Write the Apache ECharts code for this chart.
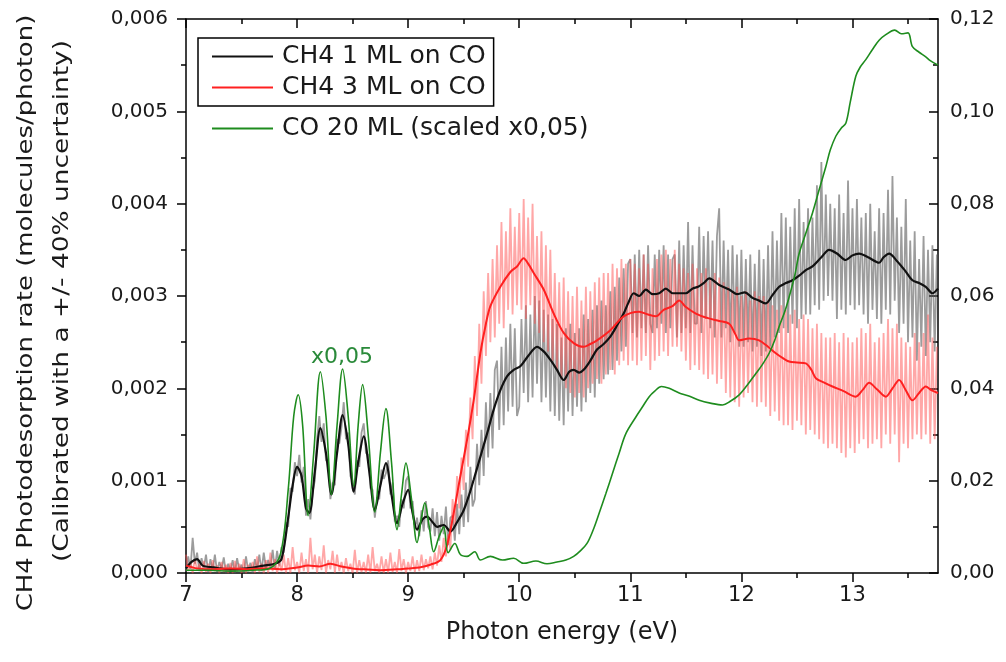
<!DOCTYPE html>
<html>
<head>
<meta charset="utf-8">
<script src="https://cdn.jsdelivr.net/npm/echarts@6/dist/echarts.min.js"></script>
<style>
  html, body { margin: 0; background: #fff; }
  #chart { width: 1006px; height: 662px; }
</style>
</head>
<body>
<div id="chart"></div>
<script>
// photon energy tick labels (eV)
const xTicks = [7, 8, 9, 10, 11, 12, 13];
const xMinorTicks = [7.5, 8.5, 9.5, 10.5, 11.5, 12.5, 13.5];

// raw spectra, sampled every 0.02 eV, values in 1e-3 molecules/photon
const rawEnergy = [
  7, 7.02, 7.04, 7.06, 7.08, 7.1, 7.12, 7.14, 7.16, 7.18,
  7.2, 7.22, 7.24, 7.26, 7.28, 7.3, 7.32, 7.34, 7.36, 7.38,
  7.4, 7.42, 7.44, 7.46, 7.48, 7.5, 7.52, 7.54, 7.56, 7.58,
  7.6, 7.62, 7.64, 7.66, 7.68, 7.7, 7.72, 7.74, 7.76, 7.78,
  7.8, 7.82, 7.84, 7.86, 7.88, 7.9, 7.92, 7.94, 7.96, 7.98,
  8, 8.02, 8.04, 8.06, 8.08, 8.1, 8.12, 8.14, 8.16, 8.18,
  8.2, 8.22, 8.24, 8.26, 8.28, 8.3, 8.32, 8.34, 8.36, 8.38,
  8.4, 8.42, 8.44, 8.46, 8.48, 8.5, 8.52, 8.54, 8.56, 8.58,
  8.6, 8.62, 8.64, 8.66, 8.68, 8.7, 8.72, 8.74, 8.76, 8.78,
  8.8, 8.82, 8.84, 8.86, 8.88, 8.9, 8.92, 8.94, 8.96, 8.98,
  9, 9.02, 9.04, 9.06, 9.08, 9.1, 9.12, 9.14, 9.16, 9.18,
  9.2, 9.22, 9.24, 9.26, 9.28, 9.3, 9.32, 9.34, 9.36, 9.38,
  9.4, 9.42, 9.44, 9.46, 9.48, 9.5, 9.52, 9.54, 9.56, 9.58,
  9.6, 9.62, 9.64, 9.66, 9.68, 9.7, 9.72, 9.74, 9.76, 9.78,
  9.8, 9.82, 9.84, 9.86, 9.88, 9.9, 9.92, 9.94, 9.96, 9.98,
  10, 10.02, 10.04, 10.06, 10.08, 10.1, 10.12, 10.14, 10.16, 10.18,
  10.2, 10.22, 10.24, 10.26, 10.28, 10.3, 10.32, 10.34, 10.36, 10.38,
  10.4, 10.42, 10.44, 10.46, 10.48, 10.5, 10.52, 10.54, 10.56, 10.58,
  10.6, 10.62, 10.64, 10.66, 10.68, 10.7, 10.72, 10.74, 10.76, 10.78,
  10.8, 10.82, 10.84, 10.86, 10.88, 10.9, 10.92, 10.94, 10.96, 10.98,
  11, 11.02, 11.04, 11.06, 11.08, 11.1, 11.12, 11.14, 11.16, 11.18,
  11.2, 11.22, 11.24, 11.26, 11.28, 11.3, 11.32, 11.34, 11.36, 11.38,
  11.4, 11.42, 11.44, 11.46, 11.48, 11.5, 11.52, 11.54, 11.56, 11.58,
  11.6, 11.62, 11.64, 11.66, 11.68, 11.7, 11.72, 11.74, 11.76, 11.78,
  11.8, 11.82, 11.84, 11.86, 11.88, 11.9, 11.92, 11.94, 11.96, 11.98,
  12, 12.02, 12.04, 12.06, 12.08, 12.1, 12.12, 12.14, 12.16, 12.18,
  12.2, 12.22, 12.24, 12.26, 12.28, 12.3, 12.32, 12.34, 12.36, 12.38,
  12.4, 12.42, 12.44, 12.46, 12.48, 12.5, 12.52, 12.54, 12.56, 12.58,
  12.6, 12.62, 12.64, 12.66, 12.68, 12.7, 12.72, 12.74, 12.76, 12.78,
  12.8, 12.82, 12.84, 12.86, 12.88, 12.9, 12.92, 12.94, 12.96, 12.98,
  13, 13.02, 13.04, 13.06, 13.08, 13.1, 13.12, 13.14, 13.16, 13.18,
  13.2, 13.22, 13.24, 13.26, 13.28, 13.3, 13.32, 13.34, 13.36, 13.38,
  13.4, 13.42, 13.44, 13.46, 13.48, 13.5, 13.52, 13.54, 13.56, 13.58,
  13.6, 13.62, 13.64, 13.66, 13.68, 13.7, 13.72, 13.74, 13.76
];
const ch4OneRaw = [
  0.02, 0.18, 0.04, 0.38, 0.10, 0.22, 0.02, 0.16, 0.05, 0.20,
  0.00, 0.15, 0.03, 0.20, 0.01, 0.12, 0.04, 0.17, 0.00, 0.10,
  0.02, 0.14, 0.00, 0.16, 0.03, 0.09, 0.00, 0.18, 0.02, 0.11,
  0.00, 0.15, 0.04, 0.20, 0.02, 0.22, 0.05, 0.14, 0.06, 0.25,
  0.04, 0.24, 0.08, 0.28, 0.22, 0.55, 0.50, 0.92, 0.88, 1.20,
  1.05, 1.28, 0.98, 1.15, 0.62, 0.80, 0.58, 0.88, 1.00, 1.45,
  1.70, 1.42, 1.62, 1.22, 1.20, 0.80, 0.98, 0.95, 1.45, 1.40,
  1.58, 1.85, 1.45, 1.52, 1.05, 1.00, 0.85, 1.22, 1.15, 1.52,
  1.62, 1.30, 1.28, 0.92, 0.90, 0.60, 0.82, 0.80, 1.12, 1.02,
  1.08, 1.22, 0.85, 0.98, 0.55, 0.62, 0.50, 0.80, 0.70, 1.00,
  1.05, 0.70, 0.78, 0.48, 0.60, 0.40, 0.68, 0.45, 0.78, 0.50,
  0.45, 0.70, 0.40, 0.66, 0.35, 0.62, 0.42, 0.72, 0.30, 0.60,
  0.62, 0.35, 0.75, 0.42, 0.85, 0.50, 0.98, 0.55, 1.15, 0.72,
  0.80, 1.40, 0.95, 1.55, 1.05, 1.85, 1.25, 1.95, 1.35, 2.20,
  2.30, 1.55, 2.45, 1.60, 2.55, 1.75, 2.70, 1.80, 2.65, 1.70,
  1.80, 2.75, 1.95, 2.90, 1.85, 2.80, 1.90, 3.00, 2.05, 2.95,
  1.85, 2.85, 1.90, 2.80, 1.75, 2.75, 1.70, 2.70, 1.65, 2.55,
  1.60, 2.65, 1.75, 2.70, 1.70, 2.60, 1.80, 2.65, 1.75, 2.80,
  1.85, 2.75, 1.95, 2.85, 1.90, 2.90, 2.05, 2.95, 2.10, 2.90,
  2.15, 3.05, 2.20, 3.10, 2.30, 3.20, 2.40, 3.30, 2.45, 3.35,
  3.40, 2.60, 3.45, 2.55, 3.50, 2.65, 3.45, 2.60, 3.55, 2.70,
  2.60, 3.45, 2.65, 3.50, 2.70, 3.55, 2.60, 3.45, 2.65, 3.40,
  3.45, 2.55, 3.60, 2.60, 3.55, 2.65, 3.80, 2.60, 3.55, 2.70,
  2.70, 3.75, 2.60, 3.65, 2.75, 3.70, 2.65, 3.60, 2.55, 3.65,
  3.95, 2.55, 3.60, 2.65, 3.50, 2.50, 3.55, 2.60, 3.45, 2.45,
  3.50, 2.45, 3.40, 2.50, 3.45, 2.40, 3.35, 2.45, 3.50, 2.35,
  3.40, 2.40, 3.55, 2.45, 3.70, 2.55, 3.60, 2.60, 3.90, 2.65,
  3.85, 2.60, 3.75, 2.70, 3.95, 2.65, 4.05, 2.75, 3.80, 2.80,
  3.95, 2.80, 3.85, 2.90, 4.20, 2.85, 4.45, 2.95, 4.10, 3.00,
  4.00, 2.95, 3.95, 2.75, 4.10, 2.85, 3.90, 2.80, 4.25, 2.90,
  3.95, 2.85, 4.05, 2.90, 3.85, 2.80, 3.90, 2.70, 4.00, 2.85,
  3.70, 2.75, 3.95, 2.70, 3.90, 2.85, 4.15, 2.80, 4.30, 2.95,
  3.85, 2.60, 3.75, 2.70, 4.05, 2.50, 3.60, 2.55, 3.70, 2.30,
  3.40, 2.45, 3.65, 2.35, 3.50, 2.50, 3.55, 2.40, 3.45
];
const ch4ThreeRaw = [
  0.20, 0.02, 0.12, 0.00, 0.15, 0.03, 0.10, 0.00, 0.13, 0.01,
  0.10, 0.00, 0.14, 0.02, 0.08, 0.00, 0.12, 0.01, 0.09, 0.00,
  0.11, 0.00, 0.13, 0.02, 0.10, 0.00, 0.15, 0.00, 0.09, 0.02,
  0.12, 0.00, 0.18, 0.01, 0.10, 0.00, 0.14, 0.00, 0.22, 0.02,
  0.15, 0.00, 0.12, 0.02, 0.20, 0.00, 0.16, 0.00, 0.28, 0.03,
  0.12, 0.00, 0.22, 0.02, 0.15, 0.00, 0.38, 0.04, 0.20, 0.00,
  0.18, 0.03, 0.30, 0.00, 0.14, 0.04, 0.24, 0.00, 0.20, 0.02,
  0.12, 0.00, 0.16, 0.02, 0.10, 0.00, 0.25, 0.00, 0.14, 0.01,
  0.12, 0.00, 0.20, 0.00, 0.28, 0.02, 0.10, 0.00, 0.18, 0.00,
  0.15, 0.00, 0.22, 0.01, 0.12, 0.00, 0.26, 0.02, 0.15, 0.00,
  0.12, 0.02, 0.18, 0.01, 0.14, 0.02, 0.20, 0.03, 0.15, 0.05,
  0.18, 0.04, 0.22, 0.08, 0.30, 0.12, 0.38, 0.18, 0.42, 0.25,
  0.80, 0.50, 1.05, 0.70, 1.25, 0.90, 1.55, 1.15, 1.90, 1.45,
  2.35, 1.70, 2.70, 2.05, 3.05, 2.35, 3.25, 2.50, 3.40, 2.55,
  3.55, 2.70, 3.80, 2.65, 3.70, 2.85, 3.95, 2.80, 3.75, 2.90,
  3.90, 2.85, 4.05, 2.75, 3.85, 2.90, 4.00, 2.70, 3.65, 2.60,
  3.70, 2.50, 3.55, 2.40, 3.50, 2.30, 3.25, 2.20, 3.15, 2.10,
  3.20, 2.00, 3.05, 1.95, 3.00, 1.90, 3.10, 1.95, 2.95, 1.90,
  3.10, 2.00, 3.05, 2.05, 3.15, 2.10, 3.20, 2.05, 3.25, 2.15,
  3.25, 2.20, 3.35, 2.15, 3.30, 2.25, 3.40, 2.30, 3.35, 2.25,
  3.40, 2.30, 3.35, 2.25, 3.30, 2.30, 3.45, 2.35, 3.35, 2.20,
  3.30, 2.30, 3.40, 2.35, 3.45, 2.40, 3.50, 2.35, 3.40, 2.45,
  3.50, 2.45, 3.35, 2.40, 3.30, 2.30, 3.25, 2.20, 3.35, 2.25,
  3.30, 2.20, 3.25, 2.15, 3.30, 2.10, 3.20, 2.15, 3.25, 2.05,
  3.20, 2.10, 3.15, 1.95, 3.10, 1.90, 3.05, 1.85, 3.10, 1.80,
  3.00, 1.90, 3.05, 1.95, 2.95, 1.85, 3.05, 1.80, 3.00, 1.85,
  3.00, 1.80, 2.95, 1.70, 2.90, 1.75, 2.85, 1.65, 2.90, 1.60,
  2.85, 1.60, 2.80, 1.55, 2.85, 1.65, 2.75, 1.60, 2.80, 1.50,
  2.75, 1.55, 2.65, 1.50, 2.70, 1.45, 2.60, 1.40, 2.55, 1.35,
  2.55, 1.40, 2.60, 1.35, 2.50, 1.30, 2.60, 1.25, 2.55, 1.35,
  2.50, 1.30, 2.55, 1.40, 2.65, 1.45, 2.60, 1.35, 2.70, 1.40,
  2.50, 1.45, 2.55, 1.35, 2.60, 1.50, 2.75, 1.40, 2.65, 1.50,
  2.70, 1.20, 2.55, 1.40, 2.50, 1.35, 2.45, 1.45, 2.60, 1.50,
  2.50, 1.45, 2.60, 1.50, 2.80, 1.40, 2.55, 1.45, 2.45
];

// smoothed CH4 1 ML on CO (1e-3 molecules/photon)
const ch4OneE = [
  7.00, 7.05, 7.10, 7.15, 7.25, 7.40, 7.55, 7.70, 7.80, 7.86,
  7.92, 7.96, 8.00, 8.04, 8.08, 8.11, 8.16, 8.21, 8.26, 8.31,
  8.36, 8.41, 8.46, 8.51, 8.55, 8.60, 8.65, 8.70, 8.75, 8.80,
  8.85, 8.90, 8.95, 9.00, 9.04, 9.08, 9.13, 9.17, 9.22, 9.26,
  9.32, 9.38, 9.44, 9.50, 9.55, 9.59, 9.66, 9.72, 9.77, 9.83,
  9.89, 9.95, 10.01, 10.08, 10.16, 10.22, 10.28, 10.34, 10.40, 10.45,
  10.49, 10.54, 10.58, 10.64, 10.70, 10.76, 10.82, 10.88, 10.94, 10.98,
  11.03, 11.08, 11.14, 11.20, 11.26, 11.32, 11.38, 11.44, 11.50, 11.56,
  11.61, 11.66, 11.71, 11.80, 11.89, 11.96, 12.03, 12.10, 12.16, 12.22,
  12.28, 12.34, 12.40, 12.46, 12.52, 12.58, 12.64, 12.72, 12.79, 12.86,
  12.94, 13.00, 13.06, 13.14, 13.24, 13.28, 13.33, 13.40, 13.47, 13.54,
  13.60, 13.66, 13.72, 13.77
];
const ch4OneSmooth = [
  0.05, 0.12, 0.15, 0.08, 0.06, 0.04, 0.05, 0.08, 0.10, 0.15,
  0.60, 0.95, 1.15, 1.05, 0.70, 0.65, 1.10, 1.57, 1.30, 0.85,
  1.30, 1.71, 1.40, 0.88, 1.20, 1.48, 1.10, 0.68, 0.95, 1.19,
  0.85, 0.54, 0.75, 0.90, 0.65, 0.47, 0.58, 0.61, 0.55, 0.50,
  0.52, 0.45, 0.55, 0.68, 0.85, 1.01, 1.30, 1.55, 1.77, 1.98,
  2.13, 2.20, 2.24, 2.35, 2.45, 2.40, 2.31, 2.20, 2.09, 2.18,
  2.20, 2.17, 2.20, 2.30, 2.42, 2.48, 2.56, 2.68, 2.81, 2.92,
  3.03, 3.00, 3.07, 3.02, 3.03, 3.08, 3.03, 3.03, 3.03, 3.08,
  3.10, 3.14, 3.19, 3.12, 3.07, 3.02, 3.04, 2.98, 2.95, 2.92,
  3.01, 3.10, 3.14, 3.17, 3.22, 3.28, 3.32, 3.42, 3.50, 3.46,
  3.39, 3.44, 3.46, 3.42, 3.36, 3.42, 3.46, 3.38, 3.28, 3.17,
  3.14, 3.10, 3.03, 3.08
];

// smoothed CH4 3 ML on CO (1e-3 molecules/photon)
const ch4ThreeE = [
  7.00, 7.10, 7.25, 7.40, 7.55, 7.70, 7.85, 8.00, 8.10, 8.20,
  8.30, 8.40, 8.50, 8.60, 8.75, 8.90, 9.00, 9.10, 9.20, 9.29,
  9.35, 9.41, 9.47, 9.53, 9.59, 9.65, 9.70, 9.74, 9.83, 9.92,
  9.98, 10.04, 10.08, 10.13, 10.22, 10.31, 10.40, 10.49, 10.58, 10.64,
  10.70, 10.82, 10.94, 11.08, 11.16, 11.23, 11.30, 11.38, 11.44, 11.50,
  11.59, 11.70, 11.80, 11.89, 11.94, 11.98, 12.07, 12.16, 12.24, 12.31,
  12.37, 12.43, 12.50, 12.58, 12.63, 12.67, 12.75, 12.82, 12.92, 13.03,
  13.09, 13.15, 13.22, 13.30, 13.36, 13.42, 13.48, 13.54, 13.60, 13.66,
  13.71, 13.77
];
const ch4ThreeSmooth = [
  0.08, 0.05, 0.04, 0.05, 0.04, 0.05, 0.04, 0.06, 0.08, 0.07,
  0.10, 0.07, 0.05, 0.04, 0.03, 0.04, 0.05, 0.06, 0.09, 0.14,
  0.30, 0.65, 1.05, 1.44, 1.87, 2.38, 2.70, 2.89, 3.10, 3.26,
  3.32, 3.41, 3.35, 3.25, 3.07, 2.81, 2.60, 2.49, 2.45, 2.48,
  2.52, 2.63, 2.78, 2.83, 2.80, 2.78, 2.85, 2.89, 2.95, 2.88,
  2.81, 2.76, 2.73, 2.70, 2.60, 2.52, 2.54, 2.52, 2.45, 2.38,
  2.33, 2.29, 2.28, 2.27, 2.20, 2.11, 2.06, 2.02, 1.97, 1.91,
  1.98, 2.06, 1.99, 1.91, 2.00, 2.09, 1.98, 1.87, 1.95, 2.02,
  1.98, 1.95
];

// CO 20 ML, right axis (1e-2 units)
const coE = [
  7.00, 7.20, 7.40, 7.60, 7.75, 7.85, 7.92, 7.97, 8.01, 8.05,
  8.10, 8.15, 8.21, 8.26, 8.31, 8.36, 8.41, 8.46, 8.51, 8.55,
  8.59, 8.64, 8.70, 8.75, 8.80, 8.85, 8.90, 8.94, 8.98, 9.03,
  9.08, 9.12, 9.15, 9.19, 9.23, 9.28, 9.32, 9.36, 9.42, 9.47,
  9.53, 9.60, 9.65, 9.74, 9.85, 9.95, 10.04, 10.15, 10.25, 10.34,
  10.42, 10.49, 10.55, 10.61, 10.67, 10.72, 10.78, 10.84, 10.90, 10.96,
  11.05, 11.11, 11.17, 11.22, 11.28, 11.35, 11.44, 11.52, 11.62, 11.72,
  11.83, 11.90, 11.98, 12.05, 12.13, 12.19, 12.25, 12.30, 12.34, 12.39,
  12.43, 12.48, 12.52, 12.58, 12.64, 12.70, 12.76, 12.80, 12.85, 12.90,
  12.94, 12.98, 13.03, 13.07, 13.12, 13.18, 13.24, 13.30, 13.38, 13.44,
  13.50, 13.54, 13.60, 13.66, 13.70, 13.77
];
const coScaled = [
  0.06, 0.06, 0.04, 0.06, 0.10, 0.40, 1.80, 3.40, 3.86, 3.20,
  1.24, 2.60, 4.36, 3.40, 1.70, 3.20, 4.42, 3.40, 1.88, 3.20,
  4.08, 3.00, 1.32, 2.60, 3.56, 2.40, 0.94, 1.70, 2.38, 1.60,
  0.66, 1.20, 1.52, 1.00, 0.46, 0.80, 1.00, 0.44, 0.64, 0.40,
  0.36, 0.46, 0.28, 0.36, 0.28, 0.32, 0.21, 0.26, 0.20, 0.24,
  0.28, 0.36, 0.48, 0.64, 0.96, 1.30, 1.72, 2.16, 2.60, 3.02,
  3.38, 3.60, 3.82, 3.94, 4.04, 4.00, 3.90, 3.84, 3.74, 3.68,
  3.64, 3.72, 3.86, 4.06, 4.32, 4.52, 4.76, 5.04, 5.34, 5.66,
  5.98, 6.44, 6.92, 7.36, 7.80, 8.30, 8.80, 9.16, 9.46, 9.64,
  9.74, 10.20, 10.76, 10.96, 11.12, 11.34, 11.54, 11.66, 11.76, 11.68,
  11.70, 11.40, 11.28, 11.18, 11.10, 11.00
];

const FONT = '"DejaVu Sans", sans-serif';
const TXT = '#1a1a1a';

const pairs = (xs, ys, k) => xs.map((x, i) => [x, ys[i] * k]);
const comma = (d) => (v) => v.toFixed(d).replace('.', ',');

const chart = echarts.init(document.getElementById('chart'));

const axisLine = { show: true, lineStyle: { color: '#000', width: 1.5 } };
const tickStyle = { color: '#000', width: 1.5 };
const xBase = { type: 'value', min: 7, max: 13.77, splitLine: { show: false } };

chart.setOption({
  animation: false,
  grid: { left: 186, right: 68, top: 19, bottom: 89 },
  xAxis: [
    Object.assign({}, xBase, {
      position: 'bottom',
      axisLine,
      axisTick: { show: true, length: 9, customValues: xTicks, lineStyle: tickStyle },
      axisLabel: { customValues: xTicks, fontSize: 21, color: TXT, fontFamily: FONT, margin: 12 },
      name: 'Photon energy (eV)',
      nameLocation: 'middle',
      nameGap: 48,
      nameTextStyle: { fontSize: 24, color: TXT, fontFamily: FONT }
    }),
    Object.assign({}, xBase, {
      position: 'bottom',
      axisLine: { show: false },
      axisTick: { show: true, length: 5, customValues: xMinorTicks, lineStyle: tickStyle },
      axisLabel: { show: false }
    }),
    Object.assign({}, xBase, {
      position: 'top',
      axisLine,
      axisTick: { show: true, inside: true, length: 9, customValues: xTicks, lineStyle: tickStyle },
      axisLabel: { show: false }
    }),
    Object.assign({}, xBase, {
      position: 'top',
      axisLine: { show: false },
      axisTick: { show: true, inside: true, length: 5, customValues: xMinorTicks, lineStyle: tickStyle },
      axisLabel: { show: false }
    })
  ],
  yAxis: [
    {
      type: 'value', min: 0, max: 0.006, interval: 0.001, position: 'left',
      axisLine,
      axisTick: { show: true, length: 9, lineStyle: tickStyle },
      minorTick: { show: true, splitNumber: 2, length: 5, lineStyle: tickStyle },
      axisLabel: { formatter: comma(3), fontSize: 20, color: TXT, fontFamily: FONT, margin: 18 },
      splitLine: { show: false }
    },
    {
      type: 'value', min: 0, max: 0.12, interval: 0.02, position: 'right',
      axisLine,
      axisTick: { show: true, inside: true, length: 9, lineStyle: tickStyle },
      minorTick: { show: true, splitNumber: 2, length: 5, lineStyle: tickStyle },
      axisLabel: { formatter: comma(2), fontSize: 20, color: TXT, fontFamily: FONT, margin: 12 },
      splitLine: { show: false }
    }
  ],
  legend: [
    {
      data: ['CH4 1 ML on CO', 'CH4 3 ML on CO'],
      orient: 'vertical', left: 198, top: 38,
      padding: [6, 8, 6, 14], itemGap: 6,
      itemWidth: 61, itemHeight: 2, icon: 'rect',
      borderColor: '#000', borderWidth: 1.5,
      textStyle: { fontSize: 25, lineHeight: 25, color: TXT, fontFamily: FONT, padding: [0, 0, 0, 4] }
    },
    {
      data: ['CO 20 ML (scaled x0,05)'],
      orient: 'vertical', left: 198, top: 110,
      padding: [6, 14, 6, 14],
      itemWidth: 61, itemHeight: 2, icon: 'rect',
      textStyle: { fontSize: 25, lineHeight: 25, color: TXT, fontFamily: FONT, padding: [0, 0, 0, 4] }
    }
  ],
  graphic: [
    {
      type: 'text', x: 26, y: 313, rotation: Math.PI / 2, scaleX: 1.18,
      style: { text: 'CH4 Photodesorption rate (molecules/photon)', font: '22px ' + FONT, fill: TXT, align: 'center', verticalAlign: 'middle' }
    },
    {
      type: 'text', x: 62, y: 301, rotation: Math.PI / 2, scaleX: 1.2,
      style: { text: '(Calibrated with a +/- 40% uncertainty)', font: '22px ' + FONT, fill: TXT, align: 'center', verticalAlign: 'middle' }
    },
    {
      type: 'text', x: 342, y: 357,
      style: { text: 'x0,05', font: '22px ' + FONT, fill: '#2a8a3a', align: 'center', verticalAlign: 'middle' }
    }
  ],
  series: [
    {
      name: 'CH4 1 ML raw', type: 'line', xAxisIndex: 0, yAxisIndex: 0,
      data: pairs(rawEnergy, ch4OneRaw, 1e-3), showSymbol: false, silent: true,
      lineStyle: { color: 'rgba(90,90,90,0.6)', width: 1.8 }
    },
    {
      name: 'CH4 3 ML raw', type: 'line', xAxisIndex: 0, yAxisIndex: 0,
      data: pairs(rawEnergy, ch4ThreeRaw, 1e-3), showSymbol: false, silent: true,
      lineStyle: { color: 'rgba(255,80,80,0.5)', width: 1.8 }
    },
    {
      name: 'CH4 1 ML on CO', type: 'line', xAxisIndex: 0, yAxisIndex: 0,
      data: pairs(ch4OneE, ch4OneSmooth, 1e-3), showSymbol: false, smooth: 0.3,
      color: '#111', lineStyle: { color: '#111', width: 2.2 }
    },
    {
      name: 'CH4 3 ML on CO', type: 'line', xAxisIndex: 0, yAxisIndex: 0,
      data: pairs(ch4ThreeE, ch4ThreeSmooth, 1e-3), showSymbol: false, smooth: 0.3,
      color: '#ff2020', lineStyle: { color: '#ff2020', width: 2 }
    },
    {
      name: 'CO 20 ML (scaled x0,05)', type: 'line', xAxisIndex: 0, yAxisIndex: 1,
      data: pairs(coE, coScaled, 1e-2), showSymbol: false, smooth: 0.35,
      color: '#1e8c1e', lineStyle: { color: '#1e8c1e', width: 1.6 }
    }
  ]
});
</script>
</body>
</html>
